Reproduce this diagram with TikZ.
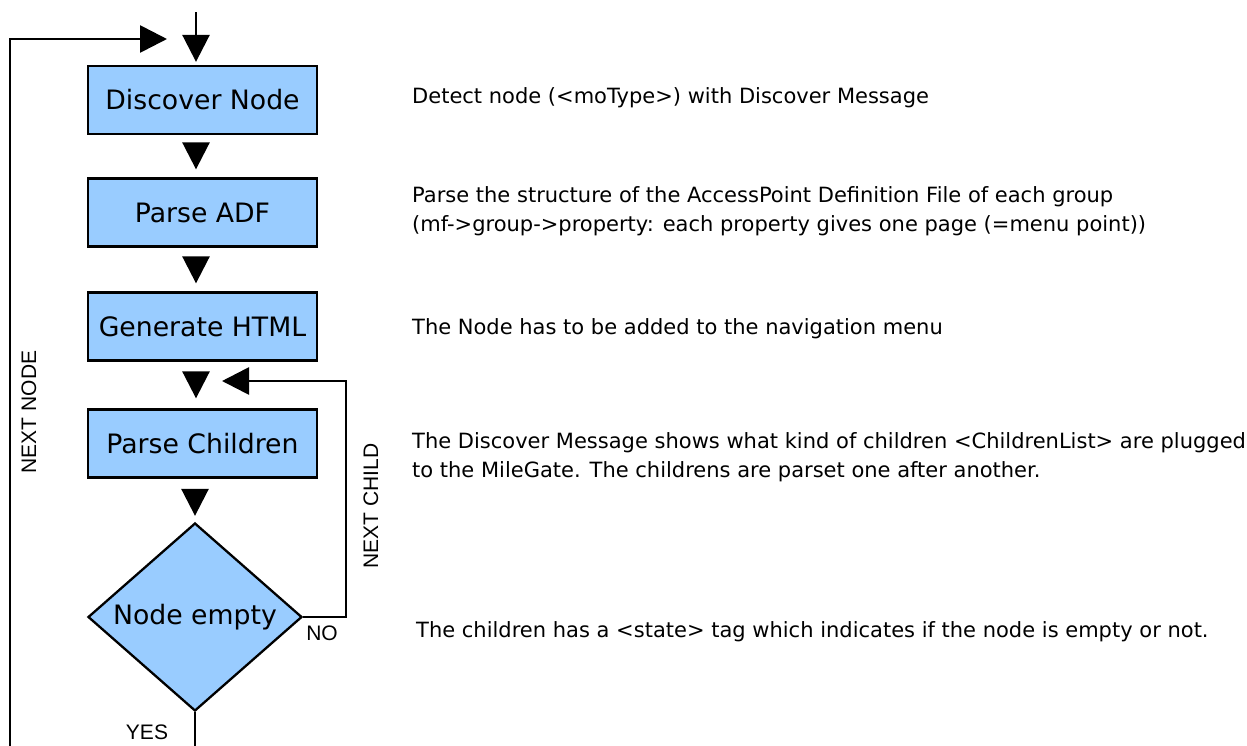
\documentclass[tikz,border=0pt]{standalone}
\usepackage{fontspec}
\setmainfont{DejaVu Sans}
\newfontfamily\labfont{Liberation Sans}
\usetikzlibrary{shapes.geometric,arrows.meta}
\definecolor{boxblue}{RGB}{153,204,255}
\begin{document}
\begin{tikzpicture}[x=1pt,y=-1pt,
  box/.style={draw=black,line width=2.3pt,fill=boxblue,minimum width=229pt,minimum height=68pt,inner sep=0pt,font=\fontsize{26.7}{30}\selectfont},
  decision/.style={diamond,draw=black,line width=2.3pt,fill=boxblue,minimum width=214pt,minimum height=188pt,inner sep=0pt,aspect=1.14,font=\fontsize{26.7}{30}\selectfont},
  desc/.style={anchor=west,align=left,inner sep=0pt,font=\fontsize{21}{29}\selectfont},
  lab/.style={inner sep=0pt,font=\labfont\fontsize{21}{24}\selectfont},
  flow/.style={line width=2.7pt,-{Triangle[length=27pt,width=27pt]}},
  plain/.style={line width=2.7pt}]
\useasboundingbox (0,0) rectangle (1247,745);
\clip (0,0) rectangle (1247,745);

% boxes
\node[box] (dn)  at (202.5,100)   {Discover Node};
\node[box] (adf) at (202.5,212.5) {Parse ADF};
\node[box] (gen) at (202.5,326.5) {Generate HTML};
\node[box] (pc)  at (202.5,443.5) {Parse Children};
\node[decision] (ne) at (195,617) {Node empty};

% helper coordinates
\coordinate (start) at (196,12);
\coordinate (join) at (196,39);
\coordinate (pcin) at (196,381);
\coordinate (below) at (195,800);
\coordinate (leftbot) at (10,800);
\coordinate (right) at (346,617);

% connectors
\draw[flow,shorten >=3pt] (start) -- (dn.north -| start);
\draw[flow,shorten <=10pt,shorten >=8pt] (dn.south -| join) -- (adf.north -| join);
\draw[flow,shorten <=10pt,shorten >=8pt] (adf.south -| join) -- (gen.north -| join);
\draw[flow,shorten <=12pt,shorten >=10pt] (gen.south -| join) -- (pc.north -| join);
\draw[flow,shorten <=12pt,shorten >=6pt] (pc.south -| ne) -- (ne.north);
\draw[flow,shorten >=26pt] (ne.east) -- (right) |- (pcin);
\draw[flow,shorten >=29pt] (ne.south) -- (below) -- (leftbot) |- (join);

% labels
\node[lab,rotate=90] (lnn) at (29,412) {NEXT NODE};
\node[lab,rotate=90] (lnc) at (371,506) {NEXT CHILD};
\node[lab] (lno) at (322,633) {NO};
\node[lab] (lyes) at (147,732) {YES};

% descriptions
\node[desc] (d1) at (412,98) {Detect node (<moType>) with Discover Message};
\node[desc] (d2) at (412,211) {Parse the structure of the AccessPoint Definition File of each group\\(mf->group->property: each property gives one page (=menu point))};
\node[desc] (d3) at (412,329) {The Node has to be added to the navigation menu};
\node[desc] (d4) at (412,457) {The Discover Message shows what kind of children <ChildrenList> are plugged\\to the MileGate. The childrens are parset one after another.};
\node[desc] (d5) at (416,632) {The children has a <state> tag which indicates if the node is empty or not.};
\end{tikzpicture}
\end{document}
